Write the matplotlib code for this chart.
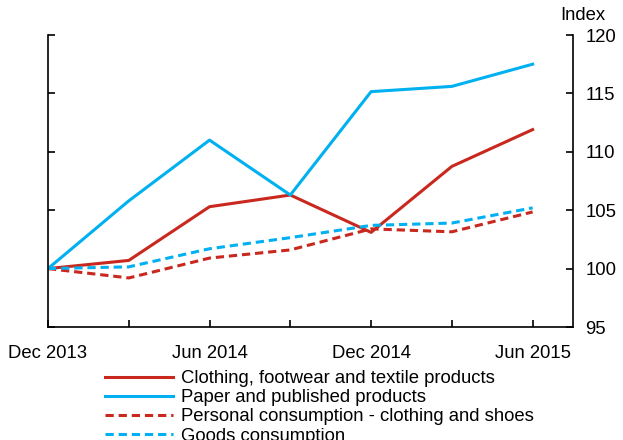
import matplotlib
matplotlib.use("Agg")
import matplotlib.pyplot as plt

plt.rcParams['font.family'] = ['Liberation Sans', 'DejaVu Sans']

quarters = ["Dec 2013", "Mar 2014", "Jun 2014", "Sep 2014", "Dec 2014", "Mar 2015", "Jun 2015"]
clothing = [100.0, 100.7, 105.3, 106.3, 103.1, 108.75, 111.9]
paper = [100.0, 105.8, 111.0, 106.3, 115.15, 115.6, 117.5]
pc_clothing = [100.0, 99.2, 100.9, 101.6, 103.4, 103.15, 104.85]
goods = [100.0, 100.15, 101.7, 102.65, 103.7, 103.9, 105.2]

labels = ["Clothing, footwear and textile products",
          "Paper and published products",
          "Personal consumption - clothing and shoes",
          "Goods consumption"]

RED = "#C8281E"
BLUE = "#00B0F0"
FS = 13.3

fig = plt.figure(figsize=(6.23, 4.4), dpi=100)
ax = fig.add_axes([48/623, 1-327/440, (573-48)/623, (327-35)/440])

x = list(range(len(quarters)))
lw = 2.2
l1, = ax.plot(x, clothing, color=RED, lw=lw, label=labels[0])
l2, = ax.plot(x, paper, color=BLUE, lw=lw, label=labels[1])
l3, = ax.plot(x, pc_clothing, color=RED, lw=lw, ls=(0, (2.7, 1.6)), label=labels[2])
l4, = ax.plot(x, goods, color=BLUE, lw=lw, ls=(0, (2.7, 1.6)), label=labels[3])

ax.set_xlim(0, 6.5)
ax.set_ylim(95, 120)
ax.set_xticks(x)
ax.set_xticklabels([q if i % 2 == 0 else "" for i, q in enumerate(quarters)], fontsize=FS)
ax.set_yticks([95, 100, 105, 110, 115, 120])
ax.spines['top'].set_visible(False)
for s in ['left', 'right', 'bottom']:
    ax.spines[s].set_linewidth(1.2)
ax.tick_params(axis='x', direction='in', length=5, width=1.2, pad=13)
ax.tick_params(axis='y', direction='in', length=5, width=1.2, left=True, right=True,
               labelleft=False, labelright=True, labelsize=FS, pad=9)

fig.text(583/623, 1-15/440, "Index", ha='center', va='center', fontsize=FS)

leg = fig.legend(handles=[l1, l2, l3, l4], loc='upper left',
                 bbox_to_anchor=(105/623, 1-370/440), frameon=False, fontsize=FS,
                 handlelength=3.7, handletextpad=0.4, labelspacing=0.12,
                 borderaxespad=0, borderpad=0)

fig.savefig("out.png", dpi=100)
